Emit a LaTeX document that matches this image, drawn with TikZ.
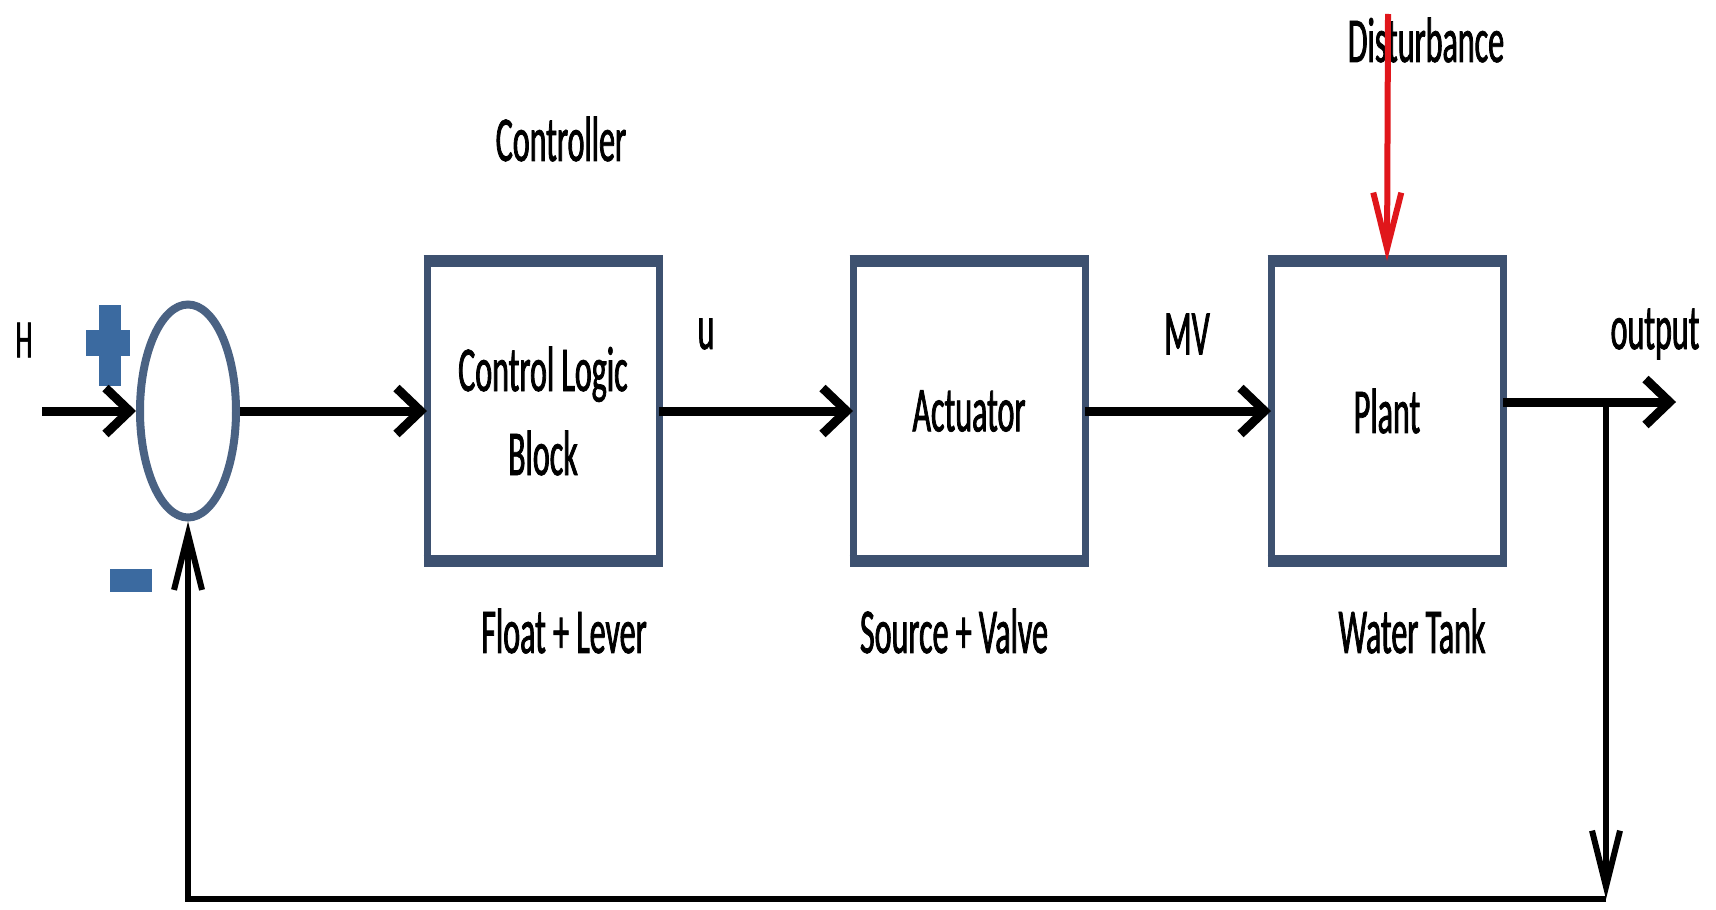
\documentclass[tikz,border=0pt]{standalone}
\usepackage{fontspec}
\setmainfont{Carlito}[FakeStretch=0.5,FakeBold=1.2]
\usetikzlibrary{arrows.meta,shapes.geometric,calc}
\definecolor{boxc}{HTML}{3D5170}
\definecolor{ellc}{HTML}{4A6283}
\definecolor{signc}{HTML}{3B6AA0}
\definecolor{redc}{HTML}{E0161B}
\begin{document}
\begin{tikzpicture}[x=0.5pt,y=-0.5pt,
  block/.style={draw=boxc, line width=3.5pt, fill=white, minimum width=116pt, minimum height=150pt, inner sep=0pt, outer sep=0pt, font=\fontsize{32}{42}\selectfont, align=center},
  sumnode/.style={ellipse, draw=ellc, line width=4pt, fill=white, minimum width=48pt, minimum height=106.5pt, inner sep=0pt},
  lbl/.style={font=\fontsize{32}{38}\selectfont, inner sep=0pt},
  main/.style={line width=4.5pt, -{Straight Barb[length=12pt,width=23pt]}},
  fb/.style={line width=3pt},
  fbtip/.style={-{Straight Barb[length=28pt,width=14pt]}}
]
\useasboundingbox (0,0) rectangle (1716,909);
\fill[white] (0,0) rectangle (1716,909);

% summing junction and blocks
\node[sumnode] (sum) at (188,411) {};
\node[block] (b1) at (543,411) {Control Logic\\Block};
\node[block] (b2) at (969,411) {Actuator};
\node[block] (b3) at (1387,411) {Plant};
\foreach \b in {b1,b2,b3}{
  \draw[boxc, line width=6pt] ([xshift=-1.75pt]\b.north west) -- ([xshift=1.75pt]\b.north east);
  \draw[boxc, line width=6pt] ([xshift=-1.75pt]\b.south west) -- ([xshift=1.75pt]\b.south east);
}

% signs
\fill[signc] (86,330) rectangle (130,356);
\fill[signc] (99,305) rectangle (121,386);
\fill[signc] (110,569) rectangle (152,592);

% labels
\node[lbl, font=\fontsize{27}{32}\selectfont] (hlab) at (24,340) {H};
\node[lbl] (ctrl) at (561,139) {Controller};
\node[lbl] (flt) at (564,631) {Float + Lever};
\node[lbl] (u) at (706,334) {u};
\node[lbl] (mv) at (1187,334) {MV};
\node[lbl] (src) at (954,631) {Source + Valve};
\node[lbl] (wt) at (1412,631) {Water Tank};
\node[lbl] (out) at (1655,334) {output};
\node[lbl] (dist) at (1426,40) {Disturbance};

% forward path
\coordinate (hin) at (42,411);
\draw[main] (hin) -- (sum.west);
\draw[main] (sum.east) -- (b1.west);
\draw[main] (b1.east) -- (b2.west);
\draw[main] (b2.east) -- (b3.west);
\coordinate (outc) at (1676,402);
\draw[main] (b3.east |- outc) -- (outc);

% feedback path
\coordinate (br) at (1606,402);
\coordinate (corner) at (1606,899);
\draw[fb,fbtip] (br) -- (corner);
\draw[fb,fbtip] (corner) -- (sum.south |- corner) -- (sum.south);

% disturbance
\coordinate (dtop) at (1388,14);
\draw[redc, line width=3pt, fbtip] (dtop) -- (b3.north);
\end{tikzpicture}
\end{document}
